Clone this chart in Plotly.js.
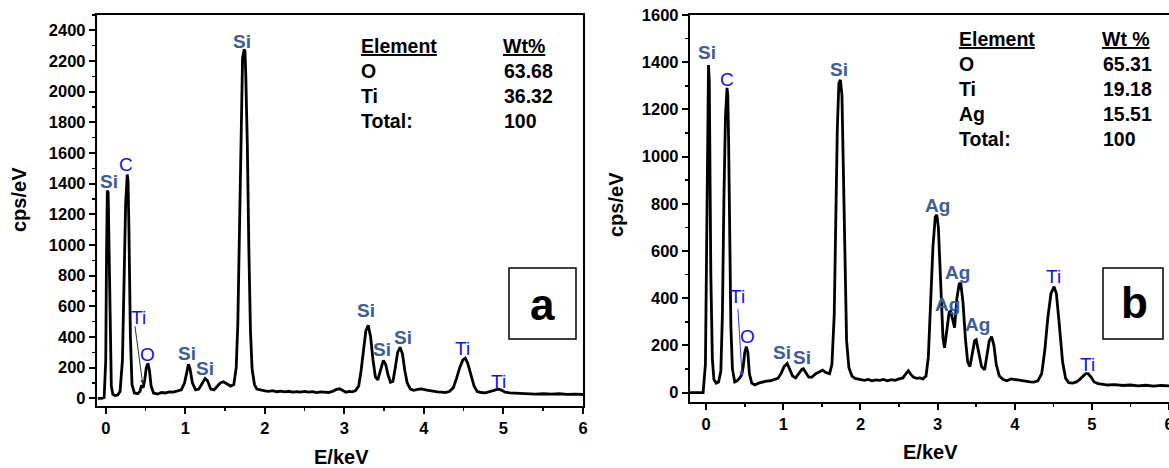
<!DOCTYPE html>
<html>
<head>
<meta charset="utf-8">
<script src="https://cdn.plot.ly/plotly-3.0.1.min.js"></script>
<style>html,body{margin:0;padding:0;background:#fff;}#chart{width:1169px;height:468px;}</style>
</head>
<body>
<div id="chart"></div>
<script>
// ---- Spectrum (a) ----
const energyA = [-0.10,-0.05,-0.02,0.00,0.01,0.02,0.03,0.04,0.05,0.07,0.09,0.12,0.15,0.18,0.21,0.23,0.25,0.27,0.28,0.29,0.30,0.31,0.33,0.36,0.40,0.43,0.45,0.47,0.49,0.51,0.53,0.55,0.57,0.60,0.65,0.70,0.75,0.80,0.85,0.90,0.95,0.99,1.02,1.04,1.06,1.09,1.13,1.17,1.21,1.25,1.28,1.32,1.36,1.40,1.44,1.48,1.52,1.57,1.61,1.64,1.66,1.68,1.70,1.72,1.74,1.75,1.76,1.78,1.80,1.82,1.84,1.87,1.90,1.93,1.97,2.00,2.05,2.10,2.15,2.20,2.25,2.30,2.35,2.40,2.45,2.50,2.55,2.60,2.65,2.70,2.75,2.80,2.85,2.90,2.94,2.98,3.02,3.06,3.10,3.14,3.18,3.21,3.24,3.27,3.30,3.33,3.36,3.39,3.42,3.45,3.49,3.52,3.55,3.58,3.61,3.64,3.67,3.70,3.73,3.76,3.79,3.83,3.87,3.92,3.97,4.02,4.07,4.12,4.17,4.22,4.27,4.32,4.37,4.41,4.45,4.49,4.52,4.55,4.59,4.63,4.67,4.72,4.77,4.82,4.86,4.90,4.94,4.98,5.02,5.08,5.15,5.20,5.30,5.40,5.50,5.60,5.70,5.80,5.90,6.00];
const cpsA = [0,0,5,250,950,1355,1345,1000,450,80,25,18,22,45,250,750,1270,1460,1420,1150,760,400,90,35,30,45,85,70,120,200,228,180,80,35,28,38,35,42,40,48,55,100,190,222,190,100,55,60,95,130,115,60,55,75,100,108,95,80,90,200,480,1050,1750,2220,2275,2265,2120,1650,950,430,190,90,60,55,50,48,45,50,43,47,42,46,40,44,41,45,40,44,38,42,40,38,45,58,62,50,40,45,42,50,80,180,320,440,477,400,250,140,120,170,248,220,150,105,110,200,300,333,290,180,100,60,52,58,62,55,50,45,42,40,38,45,70,130,200,250,262,230,150,80,45,38,36,40,48,55,60,52,40,35,33,30,32,28,30,27,30,26,28,25];

// ---- Spectrum (b) ----
const energyB = [-0.21,-0.10,-0.04,-0.01,0.01,0.02,0.03,0.04,0.05,0.06,0.08,0.10,0.13,0.16,0.19,0.21,0.23,0.25,0.27,0.28,0.29,0.30,0.32,0.34,0.37,0.40,0.43,0.46,0.48,0.50,0.52,0.54,0.56,0.59,0.63,0.68,0.73,0.78,0.83,0.88,0.93,0.97,1.01,1.05,1.08,1.12,1.16,1.20,1.24,1.26,1.29,1.33,1.37,1.42,1.47,1.51,1.55,1.60,1.63,1.66,1.68,1.70,1.72,1.74,1.76,1.78,1.80,1.82,1.85,1.89,1.93,1.97,2.00,2.05,2.10,2.15,2.20,2.25,2.30,2.35,2.40,2.45,2.50,2.55,2.59,2.62,2.65,2.69,2.73,2.77,2.81,2.85,2.88,2.91,2.94,2.97,2.99,3.01,3.04,3.07,3.09,3.12,3.15,3.17,3.20,3.22,3.25,3.28,3.30,3.33,3.36,3.39,3.42,3.45,3.48,3.50,3.53,3.57,3.61,3.64,3.67,3.70,3.73,3.76,3.80,3.85,3.90,3.95,4.00,4.05,4.10,4.15,4.20,4.25,4.30,4.35,4.39,4.43,4.47,4.51,4.54,4.58,4.62,4.66,4.70,4.75,4.80,4.84,4.88,4.92,4.95,4.99,5.03,5.08,5.15,5.20,5.30,5.40,5.50,5.60,5.70,5.80,5.90,6.01];
const cpsB = [0,0,0,120,750,1220,1388,1320,950,500,140,55,40,45,90,330,830,1170,1291,1260,1080,750,280,100,45,50,60,75,110,170,195,170,80,40,32,40,45,48,50,55,60,80,110,123,100,70,62,80,98,101,85,65,65,80,88,95,85,80,120,330,730,1120,1310,1325,1260,930,480,220,105,70,60,58,55,52,56,50,54,52,56,50,55,52,58,62,80,92,78,65,60,62,58,70,150,380,620,745,753,700,450,230,190,260,340,345,300,275,400,460,465,380,230,130,110,170,220,224,180,110,97,150,220,237,200,120,70,55,50,58,55,52,50,48,45,44,50,80,180,320,420,449,420,280,130,60,42,40,45,55,68,80,80,65,45,38,35,32,34,30,32,28,31,27,30,28];

// ---- Tables ----
const tableHeaders = ['Element', 'Wt%'];
const elementsA = ['O', 'Ti', 'Total:'];
const wtA = ['63.68', '36.32', '100'];
const tableHeadersB = ['Element', 'Wt %'];
const elementsB = ['O', 'Ti', 'Ag', 'Total:'];
const wtB = ['65.31', '19.18', '15.51', '100'];

const W = 1169, H = 468;
const PX = x => x / W, PY = y => 1 - y / H;
const FONT = 'Liberation Sans, Arial, sans-serif';
const SI_COL = '#3d5c9c', BL_COL = '#1010f0';

const traces = [
  {x: energyA, y: cpsA, type: 'scatter', mode: 'lines', line: {color: '#000', width: 2.8}, xaxis: 'x', yaxis: 'y', hoverinfo: 'skip', cliponaxis: true},
  {x: energyB, y: cpsB, type: 'scatter', mode: 'lines', line: {color: '#000', width: 2.8}, xaxis: 'x2', yaxis: 'y2', hoverinfo: 'skip', cliponaxis: true}
];

function axis(extra) {
  return Object.assign({
    showline: true, linecolor: '#000', linewidth: 2.2, mirror: true,
    ticks: 'outside', ticklen: 6, tickwidth: 2, tickcolor: '#000',
    showgrid: false, zeroline: false, fixedrange: true,
    tickfont: {family: FONT, size: 16.5, color: '#000', weight: 'bold'}
  }, extra);
}

// peak labels: [text, axis, E, cps, kind]
const peakLabels = [
  ['Si','a',0.04,1412,'s'],['C','a',0.26,1523,'b'],['Si','a',1.71,2327,'s'],['Ti','a',0.415,529,'b'],
  ['O','a',0.53,288,'b'],['Si','a',1.02,294,'s'],['Si','a',1.245,196,'s'],['Si','a',3.27,575,'s'],
  ['Si','a',3.47,320,'s'],['Si','a',3.74,399,'s'],['Ti','a',4.49,327,'b'],['Ti','a',4.94,111,'b'],
  ['Si','b',0.013,1439,'s'],['C','b',0.27,1325,'b'],['Si','b',1.72,1367,'s'],['Ti','b',0.41,406,'b'],
  ['O','b',0.54,237,'b'],['Si','b',0.98,169,'s'],['Si','b',1.24,148,'s'],['Ag','b',3.0,792,'s'],
  ['Ag','b',3.26,508,'s'],['Ag','b',3.13,372,'s'],['Ag','b',3.52,288,'s'],['Ti','b',4.50,491,'b'],
  ['Ti','b',4.94,119,'b']
];

const annotations = [];
peakLabels.forEach(p => {
  const isA = p[1] === 'a';
  annotations.push({
    text: p[4] === 's' ? '<b>' + p[0] + '</b>' : p[0],
    xref: isA ? 'x' : 'x2', yref: isA ? 'y' : 'y2', x: p[2], y: p[3],
    showarrow: false, xanchor: 'center', yanchor: 'middle',
    font: {family: FONT, size: 19, color: p[4] === 's' ? SI_COL : BL_COL}
  });
});
// arrows from Ti labels
annotations.push({xref: 'x', yref: 'y', x: 0.465, y: 92, axref: 'x', ayref: 'y', ax: 0.365, ay: 480,
  showarrow: true, arrowhead: 2, arrowsize: 0.8, arrowwidth: 1, arrowcolor: '#333', text: ''});
annotations.push({xref: 'x2', yref: 'y2', x: 0.466, y: 68, axref: 'x2', ayref: 'y2', ax: 0.41, ay: 362,
  showarrow: true, arrowhead: 2, arrowsize: 1, arrowwidth: 1, arrowcolor: '#2a3af0', text: ''});

// axis titles
const tf = {family: FONT, size: 20, color: '#000'};
function pa(x, y, text, font, extra) {
  annotations.push(Object.assign({xref: 'paper', yref: 'paper', x: PX(x), y: PY(y), text: text,
    showarrow: false, xanchor: 'center', yanchor: 'middle', font: font}, extra || {}));
}
pa(19, 200, '<b>cps/eV</b>', tf, {textangle: -90});
pa(616, 205, '<b>cps/eV</b>', tf, {textangle: -90});
pa(341, 457, '<b>E/keV</b>', tf);
pa(931, 452, '<b>E/keV</b>', tf);

// tables
function table(hdr, els, vals, x1, x2, yTop, dy) {
  const f = {family: FONT, size: 19.5, color: '#000'};
  const L = {xanchor: 'left'};
  pa(x1, yTop, '<b><u>' + hdr[0] + '</u></b>', f, L);
  pa(x2, yTop, '<b><u>' + hdr[1] + '</u></b>', f, L);
  els.forEach((e, i) => {
    const yy = yTop + dy * (i + 1);
    pa(x1, yy, '<b>' + e + '</b>', f, L);
    pa(x2 + 1, yy, '<b>' + vals[i] + '</b>', f, L);
  });
}
table(tableHeaders, elementsA, wtA, 359, 501, 46, 25);
table(tableHeadersB, elementsB, wtB, 957, 1100, 39, 25);

// panel letters
pa(542, 304, '<b>a</b>', {family: FONT, size: 44, color: '#000'});
pa(1134, 302, '<b>b</b>', {family: FONT, size: 44, color: '#000'});

const shapes = [
  {type: 'rect', xref: 'paper', yref: 'paper', x0: PX(509), x1: PX(576), y0: PY(268), y1: PY(339), line: {color: '#000', width: 1.5}},
  {type: 'rect', xref: 'paper', yref: 'paper', x0: PX(1103), x1: PX(1163), y0: PY(268), y1: PY(339), line: {color: '#000', width: 1.5}}
];

const layout = {
  width: W, height: H, margin: {l: 0, r: 0, t: 0, b: 0},
  paper_bgcolor: '#fff', plot_bgcolor: 'rgba(0,0,0,0)', showlegend: false,
  xaxis: axis({domain: [PX(97), PX(583)], range: [-0.11, 6], dtick: 1, anchor: 'y', minor: {dtick: 0.5, ticks: 'outside', ticklen: 3, tickwidth: 1.5, tickcolor: '#000'}}),
  yaxis: axis({domain: [PY(406), PY(15)], range: [-50, 2500], dtick: 200, anchor: 'x', minor: {dtick: 100, ticks: 'outside', ticklen: 3, tickwidth: 1.5, tickcolor: '#000'}}),
  xaxis2: axis({domain: [PX(690), 1], range: [-0.21, 6.0], dtick: 1, anchor: 'y2', ticklabeloverflow: 'allow', minor: {dtick: 0.5, ticks: 'outside', ticklen: 3, tickwidth: 1.5, tickcolor: '#000'}}),
  yaxis2: axis({domain: [PY(402), PY(15)], range: [-40, 1600], dtick: 200, anchor: 'x2', mirror: false, minor: {dtick: 100, ticks: 'outside', ticklen: 3, tickwidth: 1.5, tickcolor: '#000'}}),
  annotations: annotations, shapes: shapes
};

Plotly.newPlot('chart', traces, layout, {staticPlot: true, displayModeBar: false});
</script>
</body>
</html>
